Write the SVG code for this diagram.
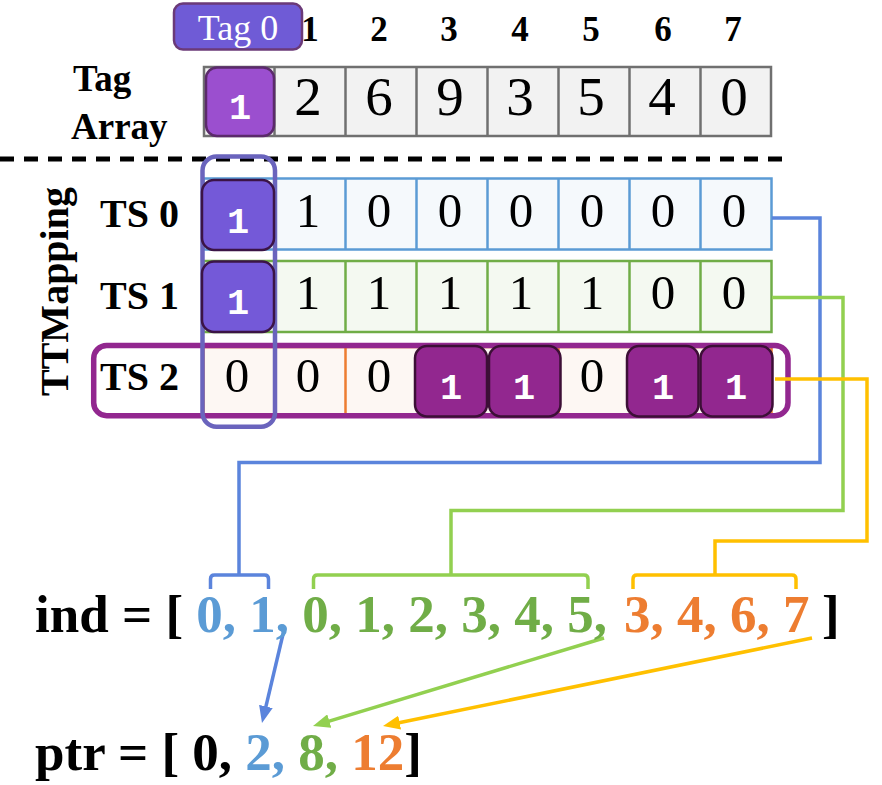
<svg xmlns="http://www.w3.org/2000/svg" width="882" height="785" viewBox="0 0 882 785">
<defs>
<style>
.b{font-family:"Liberation Serif","Times New Roman",serif;font-weight:bold}
.hdr{font-size:35px;text-anchor:middle}
.lbl{font-size:40px}
.ct{font-family:"Liberation Serif","Times New Roman",serif;font-size:55px;text-anchor:middle;fill:#000}
.cr{font-family:"Liberation Serif","Times New Roman",serif;font-size:49px;text-anchor:middle;fill:#000}
.mono{font-family:"Liberation Mono","DejaVu Sans Mono",monospace;font-weight:bold;font-size:37px;fill:#fff;text-anchor:middle}
.big{font-family:"Liberation Serif","Times New Roman",serif;font-weight:bold;font-size:53px}
.conn{fill:none;stroke-width:3.5}
.blue{stroke:#5b84dc}
.green{stroke:#92d050}
.yel{stroke:#ffc000}
.pA{fill:#7459d8;stroke:#3b1446;stroke-width:2.5}
.pB{fill:#92278f;stroke:#3c0f36;stroke-width:2.5}
</style>
<marker id="mb" markerUnits="userSpaceOnUse" markerWidth="17" markerHeight="14" refX="7" refY="7" orient="auto"><path d="M0,0 L17,7 L0,14 z" fill="#5b84dc"/></marker>
<marker id="mg" markerUnits="userSpaceOnUse" markerWidth="17" markerHeight="14" refX="7" refY="7" orient="auto"><path d="M0,0 L17,7 L0,14 z" fill="#92d050"/></marker>
<marker id="my" markerUnits="userSpaceOnUse" markerWidth="17" markerHeight="14" refX="7" refY="7" orient="auto"><path d="M0,0 L17,7 L0,14 z" fill="#ffc000"/></marker>
</defs>
<rect width="882" height="785" fill="#fff"/>

<!-- Column headers -->
<g id="headers" class="b hdr">
<text x="310" y="41">1</text>
<text x="379" y="41">2</text>
<text x="449" y="41">3</text>
<text x="520" y="41">4</text>
<text x="591" y="41">5</text>
<text x="663" y="41">6</text>
<text x="733" y="41">7</text>
</g>

<!-- Tag array -->
<g id="tag-array">
<text class="b" x="73" y="91" font-size="37">Tag</text>
<text class="b" x="71" y="139" font-size="37">Array</text>
<rect x="204" y="67" width="567" height="69" fill="#f2f2f2" stroke="#707070" stroke-width="2.5"/>
<g stroke="#707070" stroke-width="2.5">
<line x1="274.5" y1="67" x2="274.5" y2="136"/>
<line x1="345.5" y1="67" x2="345.5" y2="136"/>
<line x1="416.5" y1="67" x2="416.5" y2="136"/>
<line x1="487.5" y1="67" x2="487.5" y2="136"/>
<line x1="558.5" y1="67" x2="558.5" y2="136"/>
<line x1="629.5" y1="67" x2="629.5" y2="136"/>
<line x1="700.5" y1="67" x2="700.5" y2="136"/>
</g>
<g class="ct">
<text x="308" y="115">2</text>
<text x="379" y="115">6</text>
<text x="450" y="115">9</text>
<text x="520" y="115">3</text>
<text x="591" y="115">5</text>
<text x="662" y="115">4</text>
<text x="734" y="115">0</text>
</g>
<rect x="206" y="67.5" width="68" height="68.5" rx="11" fill="#9b4fcf" stroke="#5b2a6b" stroke-width="2.5"/>
<text class="mono" x="240" y="119">1</text>
</g>

<!-- Tag 0 label -->
<g id="tag0">
<rect x="174" y="3.5" width="128" height="46" rx="9" fill="#6f5bd6" stroke="#6b3a78" stroke-width="2.5"/>
<text x="238" y="40" font-family="Liberation Serif, Times New Roman, serif" font-size="36" fill="#fff" text-anchor="middle">Tag 0</text>
</g>

<!-- divider -->
<line x1="0" y1="159" x2="785" y2="159" stroke="#000" stroke-width="5" stroke-dasharray="14 10"/>

<!-- TTMapping label -->
<text class="b lbl" transform="translate(68,291.5) rotate(-90)" text-anchor="middle">TTMapping</text>

<!-- TS0 row -->
<g id="ts0">
<text class="b lbl" x="100" y="227">TS 0</text>
<rect x="203.5" y="178.5" width="568" height="71" fill="#f5f9fc" stroke="#5b9bd5" stroke-width="2.5"/>
<g stroke="#5b9bd5" stroke-width="2.5">
<line x1="345.5" y1="178.5" x2="345.5" y2="249.5"/>
<line x1="416.5" y1="178.5" x2="416.5" y2="249.5"/>
<line x1="487.5" y1="178.5" x2="487.5" y2="249.5"/>
<line x1="558.5" y1="178.5" x2="558.5" y2="249.5"/>
<line x1="629.5" y1="178.5" x2="629.5" y2="249.5"/>
<line x1="700.5" y1="178.5" x2="700.5" y2="249.5"/>
</g>
<g class="cr">
<text x="308" y="227">1</text>
<text x="379" y="227">0</text>
<text x="450" y="227">0</text>
<text x="521" y="227">0</text>
<text x="592" y="227">0</text>
<text x="663" y="227">0</text>
<text x="734" y="227">0</text>
</g>
</g>

<!-- TS1 row -->
<g id="ts1">
<text class="b lbl" x="100" y="308.5">TS 1</text>
<rect x="203.5" y="261" width="568" height="71" fill="#f4f9f1" stroke="#70ad47" stroke-width="2.5"/>
<g stroke="#70ad47" stroke-width="2.5">
<line x1="345.5" y1="261" x2="345.5" y2="332"/>
<line x1="416.5" y1="261" x2="416.5" y2="332"/>
<line x1="487.5" y1="261" x2="487.5" y2="332"/>
<line x1="558.5" y1="261" x2="558.5" y2="332"/>
<line x1="629.5" y1="261" x2="629.5" y2="332"/>
<line x1="700.5" y1="261" x2="700.5" y2="332"/>
</g>
<g class="cr">
<text x="308" y="309">1</text>
<text x="379" y="309">1</text>
<text x="450" y="309">1</text>
<text x="521" y="309">1</text>
<text x="592" y="309">1</text>
<text x="663" y="309">0</text>
<text x="734" y="309">0</text>
</g>
</g>

<!-- TS2 row -->
<g id="ts2">
<text class="b lbl" x="100" y="390">TS 2</text>
<rect x="203.5" y="347" width="568" height="68.5" fill="#fdf7f3" stroke="#ed7d31" stroke-width="2.5"/>
<g stroke="#ed7d31" stroke-width="2.5">
<line x1="274.5" y1="347" x2="274.5" y2="415.5"/>
<line x1="345.5" y1="347" x2="345.5" y2="415.5"/>
<line x1="558.5" y1="347" x2="558.5" y2="415.5"/>
</g>
<g class="cr">
<text x="237" y="392">0</text>
<text x="308" y="392">0</text>
<text x="379" y="392">0</text>
<text x="592" y="392">0</text>
</g>
<rect x="93.7" y="345.5" width="694.3" height="70.2" rx="13" fill="none" stroke="#92278f" stroke-width="5.5"/>
</g>

<!-- Column highlight -->
<rect id="col-highlight" x="202.5" y="156.5" width="72.5" height="270.3" rx="14" fill="none" stroke="#6a64bd" stroke-width="4.5"/>

<!-- Purple cells -->
<g id="ts-marks">
<rect class="pA" x="202" y="180" width="72" height="70" rx="12"/>
<text class="mono" x="238" y="233">1</text>
<rect class="pA" x="202" y="261.5" width="72" height="70.5" rx="12"/>
<text class="mono" x="238" y="314">1</text>
<rect class="pB" x="415" y="346" width="72" height="70.5" rx="12"/>
<text class="mono" x="451" y="399">1</text>
<rect class="pB" x="489" y="346" width="71.5" height="70.5" rx="12"/>
<text class="mono" x="524" y="399">1</text>
<rect class="pB" x="627" y="346" width="71.5" height="70.5" rx="12"/>
<text class="mono" x="663" y="399">1</text>
<rect class="pB" x="700.5" y="346" width="72" height="70.5" rx="12"/>
<text class="mono" x="736" y="399">1</text>
</g>

<!-- Connectors -->
<g id="connectors">
<path class="conn blue" d="M772,218 H820 V462.5 H239 V575"/>
<path class="conn blue" d="M210.5,589 V579 Q210.5,575 214.5,575 H264.5 Q268.5,575 268.5,579 V589"/>
<path class="conn green" d="M772,297.5 H843 V510.5 H451 V575"/>
<path class="conn green" d="M313.5,589 V579 Q313.5,575 317.5,575 H584 Q588,575 588,579 V589"/>
<path class="conn yel" d="M775,379 H867 V541 H715 V575"/>
<path class="conn yel" d="M633,589 V579 Q633,575 637,575 H792 Q796,575 796,579 V589"/>
<line class="conn blue" x1="284" y1="630" x2="264.3" y2="713.3" marker-end="url(#mb)"/>
<line class="conn green" x1="604" y1="638" x2="322.6" y2="723.1" marker-end="url(#mg)"/>
<line class="conn yel" x1="812" y1="638" x2="392.8" y2="724" marker-end="url(#my)"/>
</g>

<!-- ind / ptr -->
<text id="ind" class="big" y="632"><tspan x="35">ind = [ </tspan><tspan fill="#5b9bd5">0, 1, </tspan><tspan fill="#70ad47">0, 1, 2, 3, 4, 5, </tspan><tspan x="624" fill="#ed7d31">3, 4, 6, 7</tspan><tspan x="822">]</tspan></text>
<text id="ptr" class="big" y="770"><tspan x="35">ptr = [ 0, </tspan><tspan fill="#5b9bd5">2, </tspan><tspan fill="#70ad47">8, </tspan><tspan fill="#ed7d31">12</tspan>]</text>
</svg>
